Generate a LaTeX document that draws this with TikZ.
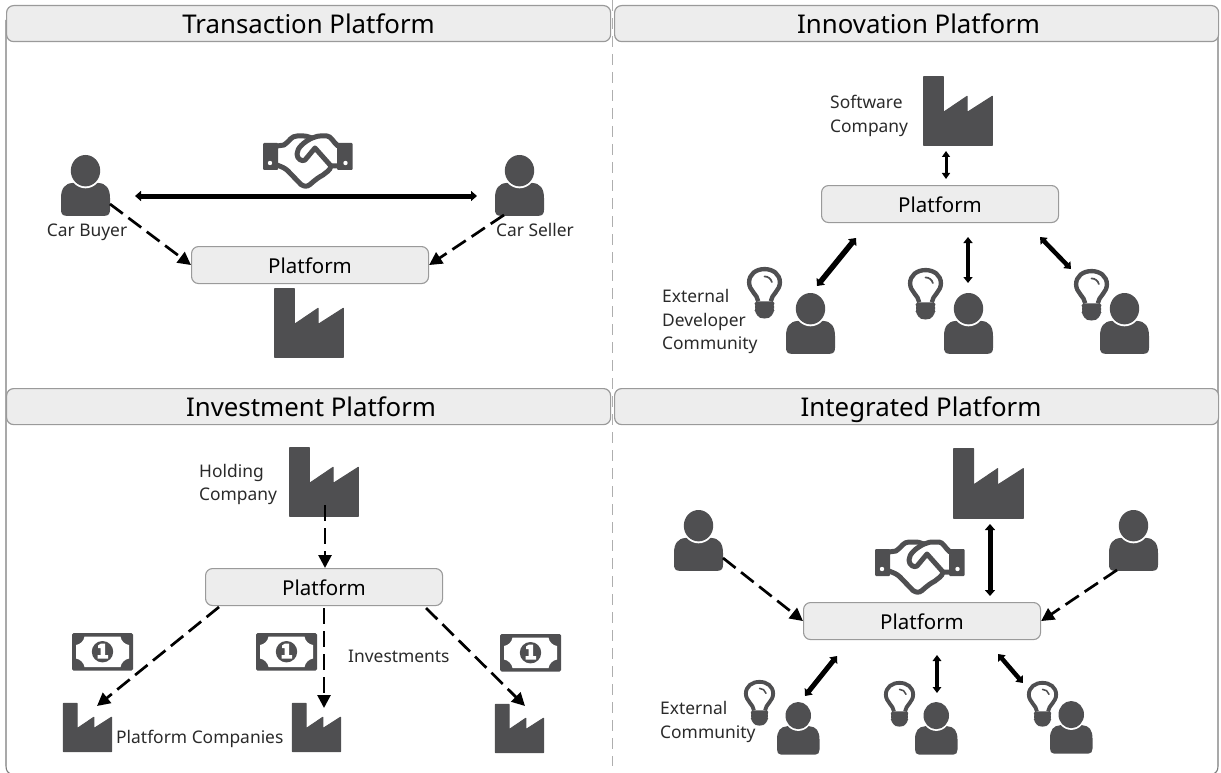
\documentclass[tikz,border=0pt]{standalone}
\usepackage{fontspec}
\setmainfont{Noto Sans}
\usetikzlibrary{arrows.meta,calc}
\definecolor{icon}{HTML}{4F4F51}
\definecolor{boxfill}{HTML}{EDEDED}
\definecolor{boxline}{HTML}{9A9A9A}
\definecolor{txt}{HTML}{2A2A2A}
\tikzset{
  header/.style={draw=boxline,fill=boxfill,line width=1.2pt,rounded corners=7pt,minimum height=36pt,inner sep=0pt,text=black,font=\fontsize{25.8}{28}\selectfont,anchor=north west,text height=20pt,text depth=0pt},
  platbox/.style={draw=boxline,fill=boxfill,line width=1.1pt,rounded corners=7pt,minimum width=237pt,minimum height=37pt,inner sep=0pt,text=black,font=\fontsize{20.5}{24}\selectfont,anchor=north west,text height=16pt,text depth=0pt},
  lab/.style={text=txt,font=\fontsize{17.4}{23.5}\selectfont,inner sep=0pt,align=left,anchor=west},
  dashedarrow/.style={line width=2.7pt,black,dash pattern=on 16pt off 7pt,-{Triangle[length=13pt,width=13pt]}},
  duplex/.style={black,line width=#1,{Triangle[length=6pt,width=#1+5pt]}-{Triangle[length=6pt,width=#1+5pt]}},
}
\newcommand{\iconFactory}[3]{\begin{scope}[shift={(#1,#2)},x=#3pt,y=-#3pt]
  \fill[icon,draw=icon,line width=1pt,line join=round] (0.01,0.01)--(0.29,0.01)--(0.29,0.52)--(0.63,0.29)--(0.63,0.52)--(0.99,0.29)--(0.99,0.99)--(0.01,0.99)--cycle;
\end{scope}}
\newcommand{\iconPerson}[3]{\begin{scope}[shift={(#1,#2)},x=#3pt,y=-#3pt]
  \fill[icon] (0.1,1.24) .. controls (0.03,1.24) and (0,1.19) .. (0,1.12) -- (0,0.88) .. controls (0,0.68) and (0.08,0.58) .. (0.24,0.57) -- (0.76,0.57) .. controls (0.92,0.58) and (1,0.68) .. (1,0.88) -- (1,1.12) .. controls (1,1.19) and (0.97,1.24) .. (0.9,1.24) -- cycle;
  \fill[white] (0.5,0.32) ellipse [x radius=0.335,y radius=0.36];
  \fill[icon] (0.5,0.32) ellipse [x radius=0.3,y radius=0.32];
\end{scope}}
\newcommand{\iconBulb}[3]{\begin{scope}[shift={(#1,#2)},x=#3pt,y=-#3pt]
  \draw[icon,line width=#3*0.125pt,line join=round] (0.32,0.98) .. controls (0.30,0.78) and (0.06,0.68) .. (0.06,0.44) .. controls (0.06,0.20) and (0.26,0.06) .. (0.5,0.06) .. controls (0.74,0.06) and (0.94,0.20) .. (0.94,0.44) .. controls (0.94,0.68) and (0.70,0.78) .. (0.68,0.98);
  \draw[icon,line width=#3*0.05pt,line cap=round] (0.5,0.27) .. controls (0.6,0.27) and (0.68,0.33) .. (0.71,0.43);
  \fill[icon,rounded corners=#3*0.05pt] (0.22,0.98) -- (0.78,0.98) -- (0.78,1.1) -- (0.74,1.15) -- (0.78,1.2) -- (0.78,1.28) -- (0.72,1.34) .. controls (0.66,1.5) and (0.34,1.5) .. (0.28,1.34) -- (0.22,1.28) -- (0.22,1.2) -- (0.26,1.15) -- (0.22,1.1) -- cycle;
\end{scope}}
\newcommand{\iconHands}[3]{\begin{scope}[shift={(#1,#2)},xscale=#3,yscale=#3]
  \fill[icon,rounded corners=1pt] (0,10) rectangle (15,37);
  \fill[icon,rounded corners=1pt] (74,10) rectangle (89.5,37);
  \fill[white] (7,30) circle (2.2);
  \fill[white] (82.5,30) circle (2.2);
  \draw[icon,line width=5pt,line join=round,line cap=round]
    (14,13) -- (21,12) .. controls (27,8) and (28,3) .. (34,3) -- (41,3) .. controls (45,3) and (47,5) .. (49,5) .. controls (51,5) and (53,3) .. (57,3) -- (64,3) .. controls (68,3) and (70,9) .. (75,13)
    (75,33) -- (68,33) .. controls (67,38) and (63,39) .. (60,42) .. controls (56,44) and (52,47) .. (47,51.5) .. controls (44,54) and (41,53.5) .. (38,51.5) -- (25,38) .. controls (22,35) and (19,34) .. (14,32);
  \draw[icon,line width=5pt,line join=round,line cap=round]
    (49,5) .. controls (41,9) and (34,15) .. (34,21) .. controls (34,26) and (39,29) .. (42,27) -- (52,15) -- (68,33);
\end{scope}}
\newcommand{\iconMoney}[2]{\begin{scope}[shift={(#1,#2)}]
  \fill[icon,rounded corners=1.5pt] (0,0) rectangle (61,37.5);
  \fill[white] (12.5,3.5) -- (48.5,3.5) .. controls (49,8) and (53,11.5) .. (57,12) -- (57,25.5) .. controls (53,26) and (49,30) .. (48.5,34) -- (12.5,34) .. controls (12,30) and (8,26) .. (4,25.5) -- (4,12) .. controls (8,11.5) and (12,8) .. (12.5,3.5) -- cycle;
  \fill[icon] (30.5,18.7) circle (10.7);
  \fill[white] (29,10.5) -- (33,10.5) -- (33,22) -- (36,22) -- (36,25.5) -- (25.5,25.5) -- (25.5,22) -- (28.6,22) -- (28.6,15) -- (26,15) -- (26,12.5) -- cycle;
\end{scope}}
\begin{document}
\begin{tikzpicture}[x=1pt,y=-1pt]
\useasboundingbox (0,0) rectangle (1221,773);
% frame and divider
\draw[boxline!80!black,line width=1.1pt] (6,20) -- (6,766) .. controls (6,771) and (8,773) .. (12,774.5);
\draw[boxline!80!black,line width=1.1pt] (1218,20) -- (1218,766) .. controls (1218,771) and (1216,773) .. (1212,774.5);
\coordinate (divTop) at (612,0);
\coordinate (divBottom) at (612,766);
\draw[boxline!80!white,line width=1pt,dash pattern=on 11pt off 7pt] (divTop) -- (divBottom);
% headers
\node[header,minimum width=604pt] (h1) at (6,5) {Transaction Platform};
\node[header,minimum width=604pt] (h2) at (614,5) {\hspace{4pt}Innovation Platform};
\node[header,minimum width=604pt] (h3) at (6,388) {\hspace{5pt}Investment Platform};
\node[header,minimum width=604pt] (h4) at (614,388) {\hspace{9pt}Integrated Platform};
% platform boxes
\node[platbox] (platT) at (191,246) {Platform};
\node[platbox] (platN) at (821,185) {Platform};
\node[platbox] (platV) at (205,568) {Platform};
\node[platbox] (platG) at (803,602) {Platform};
% Transaction
\iconPerson{61}{155}{49}
\iconPerson{495}{155}{49}
\iconHands{263}{133}{1}
\iconFactory{274}{288}{70}
\node[lab,anchor=base] (lbuyer) at (87,236) {Car Buyer};
\node[lab,anchor=base] (lseller) at (535,236) {Car Seller};
\coordinate (buyerDeal) at (135,196);
\coordinate (sellerDeal) at (477,196);
\coordinate (buyerOut) at (110,204);
\coordinate (sellerOut) at (504,215);
\draw[duplex=5pt] (buyerDeal) -- (sellerDeal);
\draw[dashedarrow] (buyerOut) -- (platT.west);
\draw[dashedarrow] (sellerOut) -- (platT.east);
% Innovation
\iconFactory{923}{76}{70}
\node[lab] (lsoft) at (830,116) {Software\\Company};
\iconPerson{786}{293}{49}
\iconPerson{944}{293}{49}
\iconPerson{1100}{293}{49}
\iconBulb{747}{267}{35}
\iconBulb{908}{268}{35}
\iconBulb{1074}{269}{35}
\node[lab] (ldev) at (662,321.5) {External\\Developer\\Community};
\coordinate (nA) at (946,179); \coordinate (nAe) at (946,151);
\coordinate (nB) at (856,238); \coordinate (nBe) at (817,286);
\coordinate (nC) at (968,237); \coordinate (nCe) at (968,283);
\coordinate (nD) at (1040,237); \coordinate (nDe) at (1071,269);
\draw[duplex=3pt] (nA) -- (nAe);
\draw[duplex=5.5pt] (nB) -- (nBe);
\draw[duplex=4pt] (nC) -- (nCe);
\draw[duplex=4.5pt] (nD) -- (nDe);
% Investment
\iconFactory{289}{447}{70}
\node[lab] (lhold) at (199,484.5) {Holding\\Company};
\iconMoney{72}{633}
\iconMoney{256}{633}
\iconMoney{500}{634}
\iconFactory{63}{703}{49}
\iconFactory{292}{703}{49}
\iconFactory{495}{704}{49}
\node[lab] (lplatco) at (116,739) {Platform Companies};
\node[lab] (linv) at (348,656) {Investments};
\coordinate (vTop) at (325,505);
\coordinate (vA) at (219,607); \coordinate (vAe) at (97,706);
\coordinate (vB) at (324,608); \coordinate (vBe) at (324,708);
\coordinate (vC) at (426,608); \coordinate (vCe) at (525,706);
\draw[dashedarrow] (vTop) -- (platV.north -| vTop);
\draw[dashedarrow] (vA) -- (vAe);
\draw[dashedarrow] (vB) -- (vBe);
\draw[dashedarrow] (vC) -- (vCe);
% Integrated
\iconFactory{953}{448}{71}
\iconHands{875}{539}{1}
\iconPerson{674}{510}{49}
\iconPerson{1109}{510}{49}
\iconPerson{777}{702}{42.5}
\iconPerson{915}{702}{42.5}
\iconPerson{1050}{701}{42.5}
\iconBulb{744}{680}{31}
\iconBulb{884}{681}{31}
\iconBulb{1027}{681}{31}
\node[lab] (lext) at (660,722) {External\\Community};
\coordinate (gA) at (990,524); \coordinate (gAe) at (990,596);
\coordinate (gB) at (723,558);
\coordinate (gC) at (1117,570);
\coordinate (gD) at (837,656); \coordinate (gDe) at (805,696);
\coordinate (gE) at (937,655); \coordinate (gEe) at (937,693);
\coordinate (gF) at (998,654); \coordinate (gFe) at (1023,683);
\draw[duplex=5pt] (gA) -- (gAe);
\draw[dashedarrow] (gB) -- (platG.west);
\draw[dashedarrow] (gC) -- (platG.east);
\draw[duplex=5pt] (gD) -- (gDe);
\draw[duplex=3.5pt] (gE) -- (gEe);
\draw[duplex=4.5pt] (gF) -- (gFe);
\end{tikzpicture}
\end{document}
